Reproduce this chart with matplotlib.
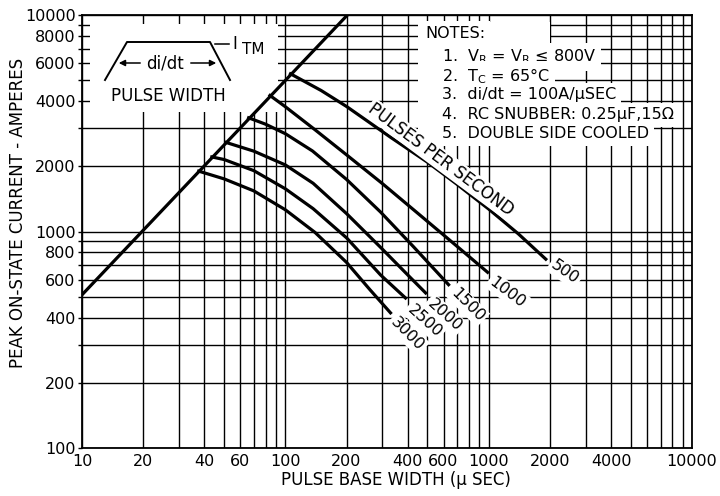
import matplotlib
matplotlib.use("Agg")
import matplotlib.pyplot as plt
from matplotlib.ticker import NullLocator

# I_TM limit line (pulse base width usec, peak current A)
itm_t = [10, 202]
itm_i = [510, 10000]

# pulses-per-second curves
pps = ['500', '1000', '1500', '2000', '2500', '3000']
t_500 = [106, 150, 200, 330, 500, 700, 1000, 1400, 1910]
i_500 = [5350, 4480, 3780, 2720, 2090, 1650, 1270, 975, 745]
t_1000 = [84, 100, 140, 200, 300, 462, 700, 988]
i_1000 = [4250, 3770, 2950, 2260, 1665, 1185, 853, 648]
t_1500 = [66, 80, 100, 136, 200, 294, 427, 635]
i_1500 = [3350, 3130, 2830, 2355, 1740, 1230, 850, 568]
t_2000 = [51, 70, 100, 137, 200, 294, 400, 490]
i_2000 = [2580, 2350, 2030, 1670, 1210, 845, 630, 520]
t_2500 = [43.5, 50, 70, 100, 137, 200, 294, 390]
i_2500 = [2210, 2150, 1910, 1575, 1275, 935, 630, 493]
t_3000 = [37.5, 50, 70, 100, 140, 200, 260, 329]
i_3000 = [1900, 1750, 1540, 1260, 990, 720, 540, 421]
curves_t = [t_500, t_1000, t_1500, t_2000, t_2500, t_3000]
curves_i = [i_500, i_1000, i_1500, i_2000, i_2500, i_3000]

x_labels = [10, 20, 40, 60, 100, 200, 400, 600, 1000, 2000, 4000, 10000]
y_labels = [100, 200, 400, 600, 800, 1000, 2000, 4000, 6000, 8000, 10000]

notes = ["1.  V$_\\mathrm{R}$ = V$_\\mathrm{R}$ \u2264 800V",
         "2.  T$_\\mathrm{C}$ = 65\u00b0C",
         "3.  di/dt = 100A/\u00b5SEC",
         "4.  RC SNUBBER: 0.25\u00b5F,15\u03a9",
         "5.  DOUBLE SIDE COOLED"]

fig = plt.figure(figsize=(7.2, 4.96), dpi=100)
ax = fig.add_axes([82/720, 1-448/496, 610/720, 433/496])
ax.set_xscale('log')
ax.set_yscale('log')
ax.set_xlim(10, 10000)
ax.set_ylim(100, 10000)

grid_x = [m*10**e for e in (1, 2, 3) for m in range(1, 10)] + [10000]
grid_y = [m*10**e for e in (2, 3) for m in range(1, 10)] + [10000]
ax.set_xticks(grid_x)
ax.set_xticklabels([str(v) if v in x_labels else '' for v in grid_x])
ax.set_yticks(grid_y)
ax.set_yticklabels([str(v) if v in y_labels else '' for v in grid_y])
ax.xaxis.set_minor_locator(NullLocator())
ax.yaxis.set_minor_locator(NullLocator())
ax.tick_params(axis='x', length=0, pad=4, labelsize=11.5)
ax.tick_params(axis='y', length=3, width=1, pad=1.5, labelsize=11.5)
ax.grid(True, color='black', lw=1.0)
ax.set_axisbelow(True)
for s in ax.spines.values():
    s.set_linewidth(1.3)

ax.set_xlabel("PULSE BASE WIDTH (\u00b5 SEC)", fontsize=12, va='center')
ax.set_ylabel("PEAK ON-STATE CURRENT - AMPERES", fontsize=12, va='center')
ax.xaxis.set_label_coords(0.515, -0.074)
ax.yaxis.set_label_coords(-0.105, 0.543)

# curves
ax.plot(itm_t, itm_i, color='black', lw=2.3, zorder=3)
for t, i in zip(curves_t, curves_i):
    ax.plot(t, i, color='black', lw=2.3, zorder=3, solid_joinstyle='round')

wb = dict(facecolor='white', edgecolor='none', pad=1.5)
offs = [(19, 13, -35), (20, 20, -37), (19, 20, -45), (19, 22, -42), (19, 23, -42), (17, 21, -45)]
for lbl, t, i, (dx, dy, ang) in zip(pps, curves_t, curves_i, offs):
    ax.annotate(lbl, xy=(t[-1], i[-1]), xytext=(dx, -dy), textcoords='offset pixels',
                rotation=ang, rotation_mode='anchor', ha='center', va='center',
                fontsize=11.5, bbox=wb, zorder=5)

ax.annotate("PULSES PER SECOND", xy=(530, 2000), xytext=(8, 7), textcoords='offset pixels',
            rotation=-36.6, rotation_mode='anchor', ha='center', va='center',
            fontsize=12, bbox=dict(facecolor='white', edgecolor='none', pad=1), zorder=5)


def fx(px):
    return (px - 82) / 610


def fy(py):
    return (448 - py) / 433


# notes
ax.add_patch(plt.Rectangle((fx(418), fy(146)), fx(550)-fx(418), fy(22)-fy(146),
                           transform=ax.transAxes, facecolor='white', edgecolor='none', zorder=1))
nb = dict(facecolor='white', edgecolor='none', pad=3.5)
ax.text(fx(425), fy(33), "NOTES:", transform=ax.transAxes, ha='left', va='center',
        fontsize=11.5, bbox=nb, zorder=5)
for k, n in enumerate(notes):
    ax.text(fx(442), fy([57, 76, 95, 115, 134][k]), n, transform=ax.transAxes,
            ha='left', va='center', fontsize=11.5, bbox=nb, zorder=5)

# pulse shape inset
ax.add_patch(plt.Rectangle((fx(90), fy(112)), fx(278)-fx(90), fy(24)-fy(112),
                           transform=ax.transAxes, facecolor='white', edgecolor='none', zorder=1))
ax.plot([fx(105), fx(127), fx(210), fx(230)], [fy(80), fy(42), fy(42), fy(80)],
        transform=ax.transAxes, color='black', lw=1.4, zorder=4)
ax.plot([fx(215), fx(229)], [fy(44), fy(44)], transform=ax.transAxes, color='black', lw=1.1, zorder=4)
ax.text(fx(232), fy(44), "I", transform=ax.transAxes, ha='left', va='center', fontsize=12, zorder=5)
ax.text(fx(242), fy(49), "TM", transform=ax.transAxes, ha='left', va='center', fontsize=11, zorder=5)
ax.text(fx(165), fy(63), "di/dt", transform=ax.transAxes, ha='center', va='center', fontsize=12, zorder=5)
ax.annotate("", xy=(fx(116), fy(63)), xytext=(fx(143), fy(63)), xycoords='axes fraction',
            arrowprops=dict(arrowstyle='-|>', color='black', lw=1.1, mutation_scale=9), zorder=5)
ax.annotate("", xy=(fx(219), fy(63)), xytext=(fx(188), fy(63)), xycoords='axes fraction',
            arrowprops=dict(arrowstyle='-|>', color='black', lw=1.1, mutation_scale=9), zorder=5)
ax.text(fx(168), fy(96), "PULSE WIDTH", transform=ax.transAxes, ha='center', va='center',
        fontsize=12, zorder=5)

fig.savefig("out.png", dpi=100)
